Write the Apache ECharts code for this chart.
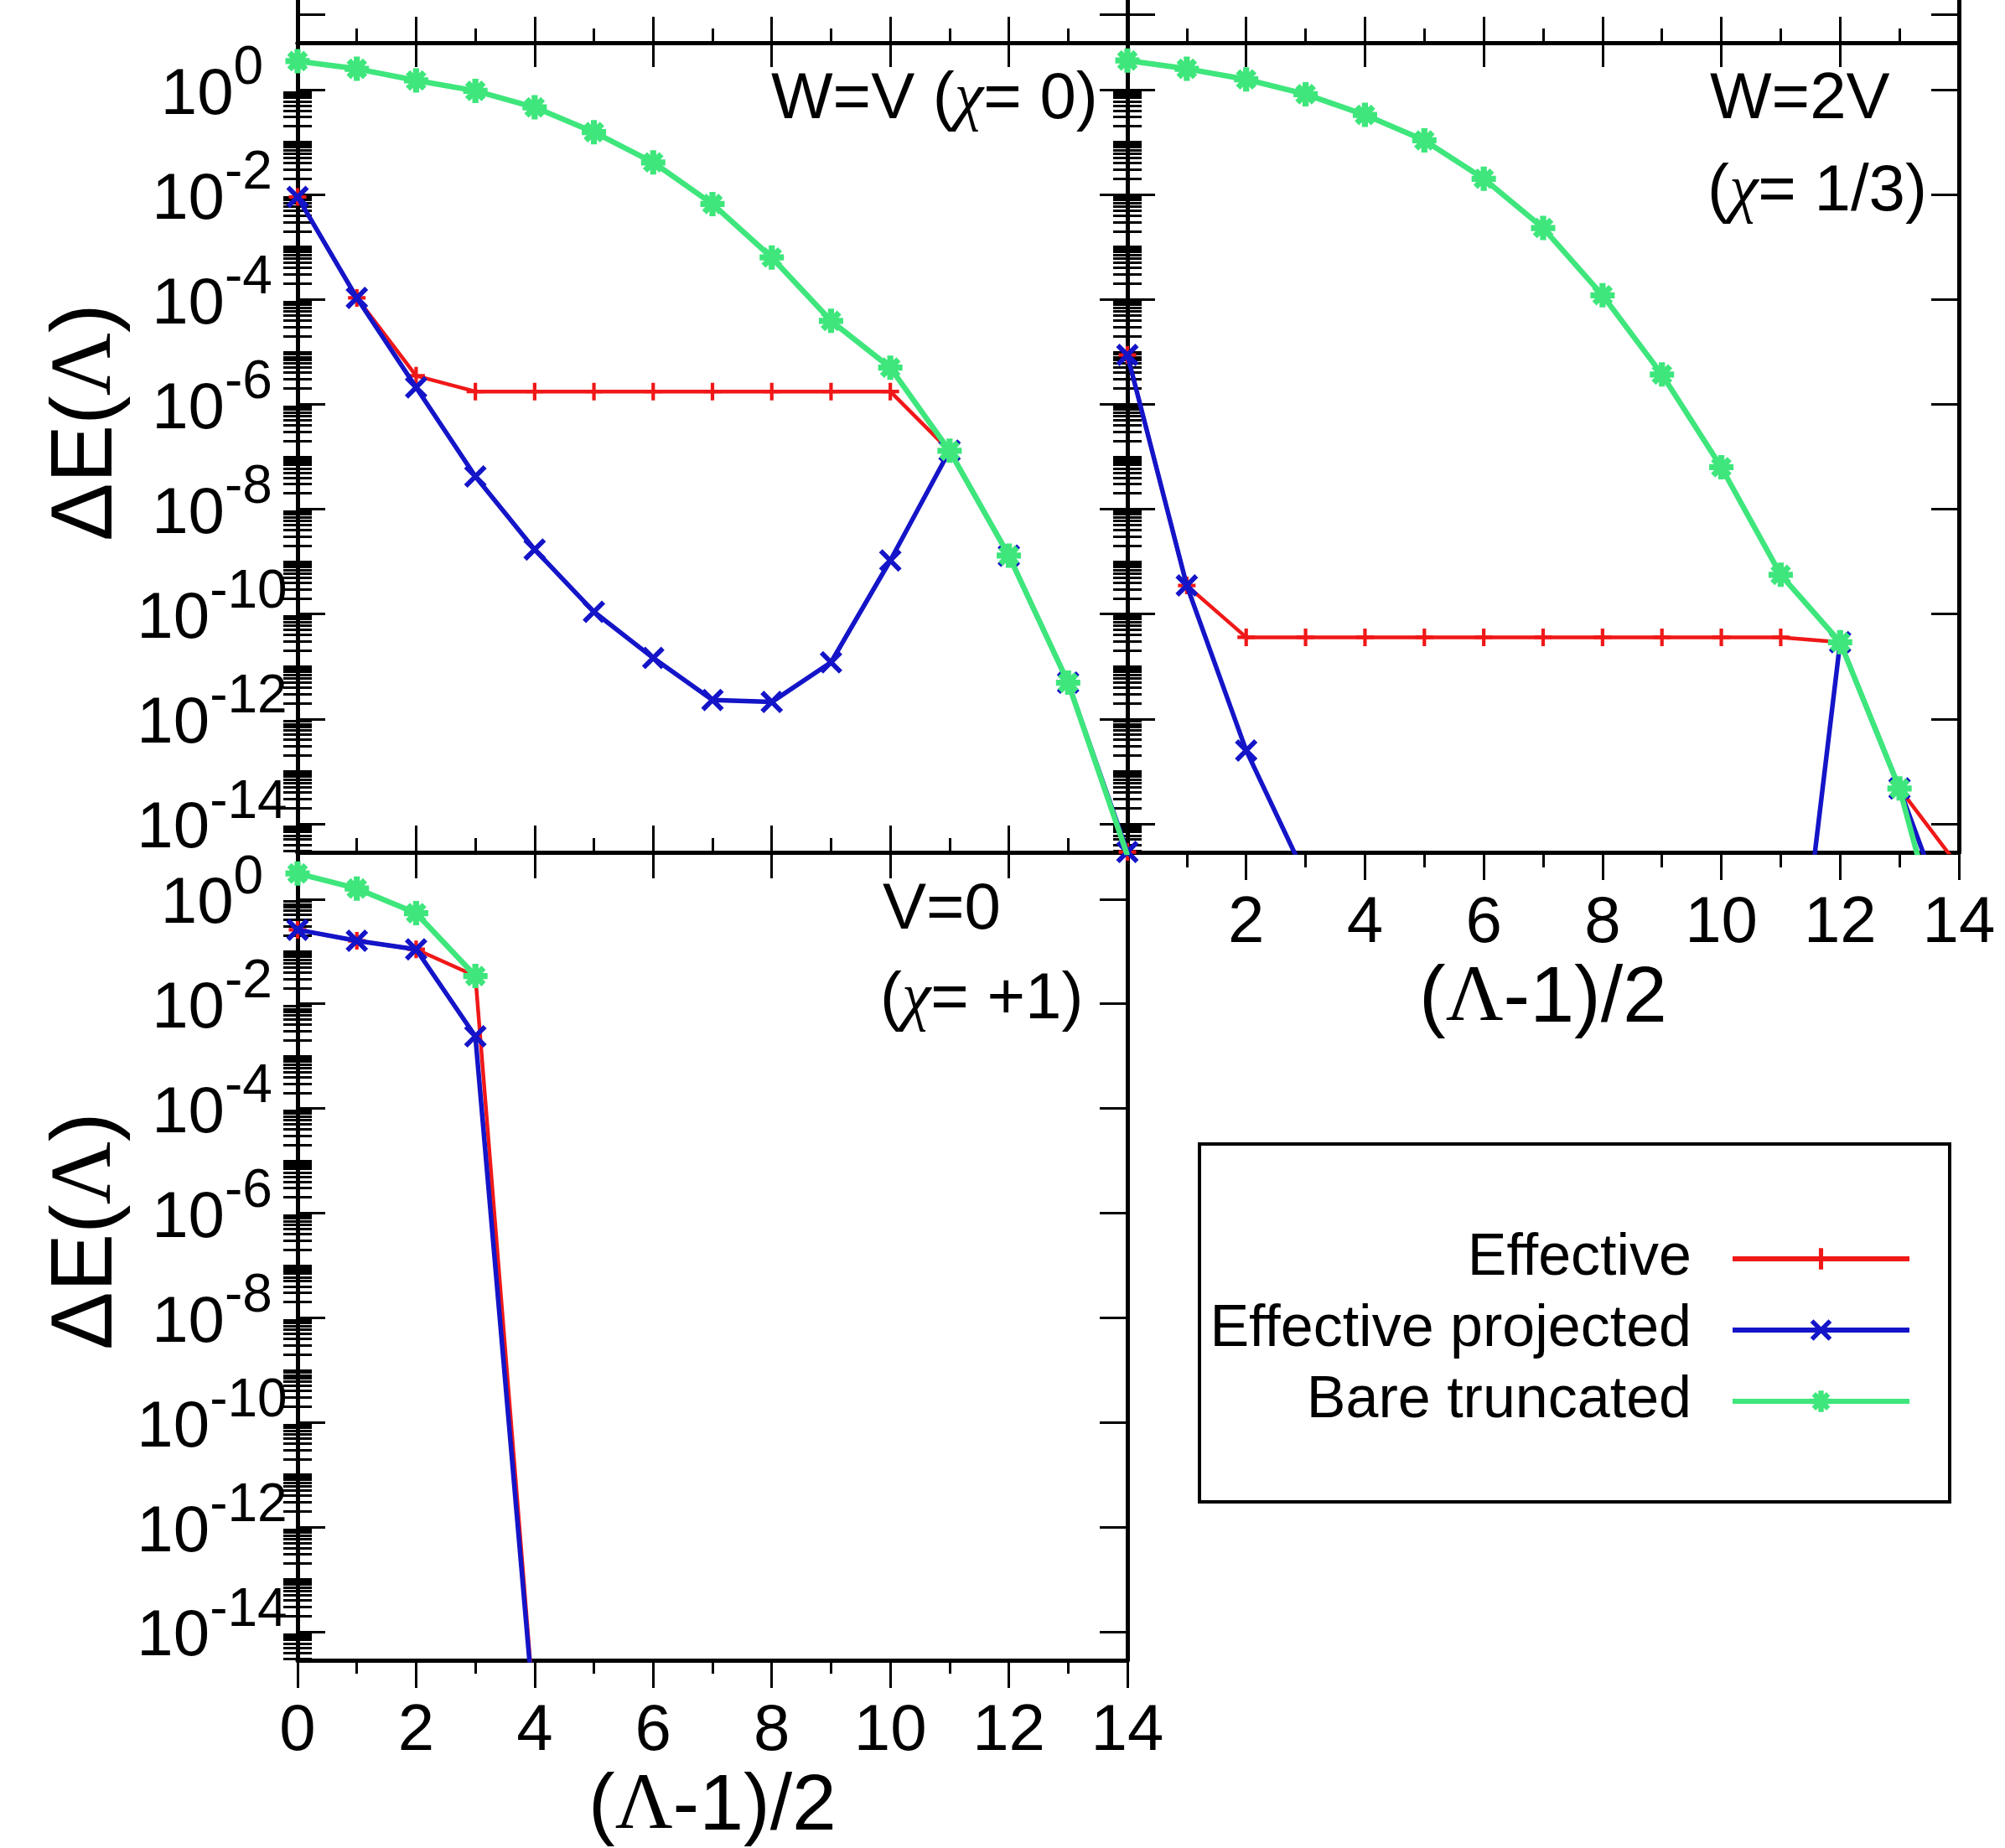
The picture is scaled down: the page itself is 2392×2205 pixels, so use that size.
<!DOCTYPE html>
<html><head><meta charset="utf-8">
<script src="https://cdn.jsdelivr.net/npm/echarts@6/dist/echarts.min.js"></script>
<style>html,body{margin:0;padding:0;background:#fff}#c{width:2392px;height:2205px}</style>
</head><body><div id="c"></div><script>
// ---------- data ----------
const xValues = [0,1,2,3,4,5,6,7,8,9,10,11,12,13,14];
// Panel W=V (chi=0)
const wvEffective = [9e-3,1.07e-4,3.5e-6,1.75e-6,1.75e-6,1.75e-6,1.75e-6,1.75e-6,1.75e-6,1.75e-6,1.75e-6,1.3e-7,1.3e-9,4.9e-12,2.9e-15];
const wvProjected = [9e-3,1.07e-4,2.1e-6,4.2e-8,1.7e-9,1.1e-10,1.45e-11,2.3e-12,2.1e-12,1.2e-11,1.05e-9,1.3e-7,1.3e-9,4.9e-12,2.9e-15];
const wvBare      = [3.5,2.5,1.5,0.95,0.46,0.155,0.041,6.6e-3,6.3e-4,3.9e-5,5e-6,1.3e-7,1.3e-9,4.9e-12,2.5e-15];
// Panel W=2V (chi=1/3)
const w2vEffective = [8.7e-6,3.5e-10,3.6e-11,3.6e-11,3.6e-11,3.6e-11,3.6e-11,3.6e-11,3.6e-11,3.6e-11,3.6e-11,3.6e-11,2.9e-11,4.7e-14,1.5e-15];
const w2vProjected = [8.7e-6,3.5e-10,2.5e-13,1e-15,null,null,null,null,null,null,null,1e-20,2.9e-11,4.7e-14,4e-17];
const w2vBare      = [3.6,2.5,1.57,0.82,0.33,0.108,0.02,2.3e-3,1.2e-4,3.7e-6,6.3e-8,5.6e-10,2.9e-11,4.7e-14,3e-18];
// Panel V=0 (chi=+1)
const v0Effective = [0.26,0.16,0.11,0.034,2.3e-16];
const v0Projected = [0.26,0.16,0.11,2.4e-3,2e-16];
const v0Bare      = [3.1,1.6,0.54,0.034];

const seriesNames = ['Effective','Effective projected','Bare truncated'];
const yLabelExps = [0,-2,-4,-6,-8,-10,-12,-14];
const xTickLabelsBL = [0,2,4,6,8,10,12,14];
const xTickLabelsTR = [2,4,6,8,10,12,14];
const yTitle = 'ΔE({l|Λ})';
const xTitle = '({l|Λ}-1)/2';
const panelTexts = [['W=V ({c|χ}= 0)'],['W=2V','({c|χ}= 1/3)'],['V=0','({c|χ}= +1)']];

// ---------- style ----------
const FONT = '"Liberation Sans", Arial, Helvetica, sans-serif';
const SERIF = '"Liberation Serif", "Times New Roman", serif';
const RED = '#f01818', BLUE = '#1414c8', GREEN = '#3ee67c';
const yMin = 2.85e-15, yMax = 7.85;
const SYM_PLUS = 'path://M-1,-0.2H1V0.2H-1Z M-0.2,-1H0.2V1H-0.2Z';
const SYM_X = 'path://M-1,-0.7L-0.7,-1L1,0.7L0.7,1Z M0.7,-1L1,-0.7L-0.7,1L-1,0.7Z';
const SYM_STAR = 'path://M-1,-0.25H1V0.25H-1Z M-0.25,-1H0.25V1H-0.25Z M-0.85,-0.5L-0.5,-0.85L0.85,0.5L0.5,0.85Z M0.5,-0.85L0.85,-0.5L-0.5,0.85L-0.85,0.5Z';

const majorY = yLabelExps.map(e => Math.pow(10, e));
const minorY = [];
for (let d = -15; d <= -1; d++) {
  for (let k = 1; k <= 9; k++) {
    if (k === 1 && d % 2 === 0) continue;
    const v = k * Math.pow(10, d);
    if (v >= yMin && v <= yMax) minorY.push(v);
  }
}

const grids = [], xAxes = [], yAxes = [], series = [];
const BLACK = '#000';

function addX(gi, position, o) {
  xAxes.push({
    type: 'value', gridIndex: gi, position, min: 0, max: 14, interval: 2,
    axisLine: { show: true, onZero: false, lineStyle: { color: BLACK, width: 5 } },
    axisTick: { show: o.tick !== false, inside: !!o.inside, length: o.len || 32, lineStyle: { color: BLACK, width: 3 } },
    minorTick: { show: !!o.minor, splitNumber: 2, length: o.minorLen || 17, lineStyle: { color: BLACK, width: 3 } },
    axisLabel: o.labels ? { show: true, customValues: o.labels, margin: 46, fontSize: 78, fontFamily: FONT, color: BLACK } : { show: false },
    name: o.name || '', nameLocation: 'middle', nameGap: 128,
    nameTextStyle: { fontSize: 95, fontFamily: FONT, color: BLACK,
      rich: { l: { fontSize: 95, fontFamily: SERIF, color: BLACK } } },
    splitLine: { show: false }, minorSplitLine: { show: false }
  });
  return xAxes.length - 1;
}
function addY(gi, position, o) {
  yAxes.push({
    type: 'log', logBase: 10, gridIndex: gi, position, min: yMin, max: yMax,
    axisLine: { show: true, onZero: false, lineStyle: { color: BLACK, width: 5 } },
    axisTick: { show: true, inside: true, length: 33, customValues: majorY, lineStyle: { color: BLACK, width: 3 } },
    axisLabel: o.labels ? {
      show: true, customValues: majorY, margin: 102, align: 'center', fontFamily: FONT, color: BLACK,
      formatter: v => '{b|10}{s|' + Math.round(Math.log10(v)) + '}',
      rich: {
        b: { fontSize: 78, lineHeight: 78, padding: [14, 0, 0, 0], fontFamily: FONT, color: BLACK },
        s: { fontSize: 64, lineHeight: 64, padding: [0, 0, 50, 0], fontFamily: FONT, color: BLACK }
      }
    } : { show: false },
    name: o.name || '', nameLocation: 'middle', nameGap: 199, nameRotate: 90,
    nameTextStyle: { fontSize: 104, fontFamily: FONT, color: BLACK, padding: [0, 0, 0, 60],
      rich: { l: { fontSize: 104, fontFamily: SERIF, color: BLACK } } },
    splitLine: { show: false }, minorTick: { show: false }, minorSplitLine: { show: false }
  });
  const major = yAxes.length - 1;
  if (o.minor !== false) {
    yAxes.push({
      type: 'log', logBase: 10, gridIndex: gi, position, min: yMin, max: yMax,
      axisLine: { show: false },
      axisTick: { show: true, inside: true, length: 17, customValues: minorY, lineStyle: { color: BLACK, width: 3 } },
      axisLabel: { show: false }, splitLine: { show: false }
    });
  }
  return major;
}
function addSeries(name, vals, xi, yi, color, symbol, size, width, z) {
  series.push({
    type: 'line', name, xAxisIndex: xi, yAxisIndex: yi, z,
    data: vals.map((v, i) => [xValues[i], v]),
    symbol, symbolSize: size, showSymbol: true, showAllSymbol: true, clip: true,
    lineStyle: { color, width }, itemStyle: { color, borderWidth: 0 },
    emphasis: { disabled: true }, animation: false
  });
}

const G = [
  { left: 355, top: 51, width: 990, height: 966 },    // TL
  { left: 1345, top: 51, width: 992, height: 966 },   // TR
  { left: 355, top: 1017, width: 990, height: 964 },  // BL
  { left: 355, top: -915, width: 990, height: 966 },  // panel above TL (cropped)
  { left: 1345, top: -915, width: 992, height: 966 }  // panel above TR (cropped)
];
G.forEach(g => grids.push(Object.assign({ outerBoundsMode: 'none', containLabel: false, show: false }, g)));

let xTL = addX(0, 'bottom', { len: 31 });
addX(0, 'top', { len: 31, minor: true });
let yTL = addY(0, 'left', { labels: true, name: yTitle });
addY(0, 'right', {});
let xTR = addX(1, 'bottom', { len: 33, minor: true, minorLen: 18, labels: xTickLabelsTR, name: xTitle });
addX(1, 'top', { len: 31, minor: true });
let yTR = addY(1, 'left', {});
addY(1, 'right', {});
let xBL = addX(2, 'bottom', { len: 33, minor: true, minorLen: 16, labels: xTickLabelsBL, name: xTitle });
addX(2, 'top', { len: 32, minor: true });
let yBL = addY(2, 'left', { labels: true, name: yTitle });
addY(2, 'right', {});
addX(3, 'bottom', { len: 29 });
addY(3, 'left', { minor: false }); addY(3, 'right', { minor: false });
addX(4, 'bottom', { len: 29 });
addY(4, 'left', { minor: false }); addY(4, 'right', { minor: false });

[[xTL, yTL, wvEffective, wvProjected, wvBare],
 [xTR, yTR, w2vEffective, w2vProjected, w2vBare],
 [xBL, yBL, v0Effective, v0Projected, v0Bare]].forEach(p => {
  addSeries(seriesNames[0], p[2], p[0], p[1], RED, SYM_PLUS, 21, 4.5, 3);
  addSeries(seriesNames[1], p[3], p[0], p[1], BLUE, SYM_X, 27, 5.5, 4);
  addSeries(seriesNames[2], p[4], p[0], p[1], GREEN, SYM_STAR, 29, 6.5, 5);
});

const txt = (s, x, y) => ({
  type: 'text', x, y, silent: true,
  style: { text: s, fill: BLACK, font: '78px ' + FONT, align: 'left', verticalAlign: 'middle',
    rich: { c: { fontSize: 78, fontFamily: SERIF, fontStyle: 'italic', fill: BLACK, color: BLACK } } }
});

const option = {
  backgroundColor: '#fff',
  animation: false,
  grid: grids, xAxis: xAxes, yAxis: yAxes, series,
  legend: {
    data: seriesNames, orient: 'vertical', align: 'right', right: 111, top: 1467, padding: 0,
    itemWidth: 211, itemHeight: 32, itemGap: 15,
    lineStyle: { width: 6 },
    textStyle: { fontSize: 70, lineHeight: 70, fontFamily: FONT, color: BLACK, padding: [0, 44, 0, 0] },
    selectedMode: false
  },
  graphic: [
    { type: 'rect', silent: true, shape: { x: 1431, y: 1365, width: 895, height: 427 }, style: { fill: 'none', stroke: BLACK, lineWidth: 4 } },
    txt(panelTexts[0][0], 920, 119),
    txt(panelTexts[1][0], 2040, 119),
    txt(panelTexts[1][1], 2037, 229),
    txt(panelTexts[2][0], 1053, 1086),
    txt(panelTexts[2][1], 1050, 1193)
  ]
};
const chart = echarts.init(document.getElementById('c'), null, { renderer: 'canvas' });
chart.setOption(option);
</script></body></html>
